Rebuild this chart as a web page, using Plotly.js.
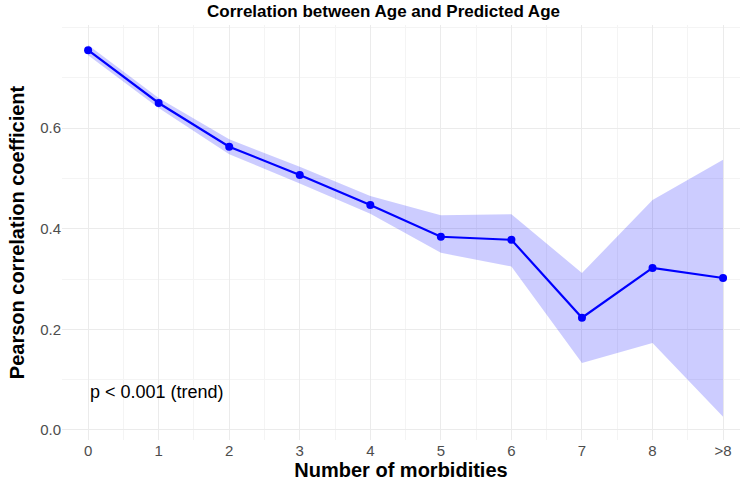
<!DOCTYPE html><html><head><script src="https://cdn.plot.ly/plotly-3.0.1.min.js"></script></head><body style="margin:0"><div id="c" style="width:752px;height:485px"></div><script>
const cats=[0,1,2,3,4,5,6,7,8,9];
const tickLabels=["0","1","2","3","4","5","6","7","8",">8"];
const r=[0.755,0.65,0.563,0.507,0.447,0.384,0.378,0.223,0.322,0.302];
const lower=[0.745,0.64,0.548,0.49,0.43,0.352,0.325,0.133,0.173,0.026];
const upper=[0.765,0.66,0.578,0.523,0.465,0.427,0.429,0.312,0.457,0.537];
const grid='#ebebeb';
Plotly.newPlot('c',[
{x:cats,y:lower,mode:'lines',line:{width:0},showlegend:false,hoverinfo:'skip'},
{x:cats,y:upper,mode:'lines',line:{width:0},fill:'tonexty',fillcolor:'rgba(0,0,255,0.2)',showlegend:false},
{x:cats,y:r,mode:'lines+markers',line:{color:'#0000ff',width:2.2},marker:{color:'#0000ff',size:8},showlegend:false}
],{
width:752,height:485,margin:{l:62,r:12,t:25,b:45},paper_bgcolor:'white',plot_bgcolor:'white',
font:{family:'Liberation Sans, Arial, sans-serif'},
title:{text:'<b>Correlation between Age and Predicted Age</b>',x:0.51,y:0.99,yanchor:'top',font:{size:17,color:'black'}},
xaxis:{range:[-0.37,9.24],tickvals:cats,ticktext:tickLabels,gridcolor:grid,zeroline:false,showline:false,
 minor:{dtick:0.5,tick0:0.5,showgrid:true,gridcolor:'#f4f4f4'},tickfont:{size:15,color:'#4d4d4d'},
 title:{text:'<b>Number of morbidities</b>',font:{size:20,color:'black'},standoff:4}},
yaxis:{range:[-0.02,0.805],tickvals:[0,0.2,0.4,0.6],ticktext:['0.0','0.2','0.4','0.6'],gridcolor:grid,zeroline:false,
 minor:{dtick:0.1,tick0:0.1,showgrid:true,gridcolor:'#f4f4f4'},tickfont:{size:15,color:'#4d4d4d'},
 title:{text:'<b>Pearson correlation coefficient</b>',font:{size:20,color:'black'},standoff:10}},
annotations:[{x:0.0,y:0.075,xref:'x',yref:'y',xanchor:'left',text:'p < 0.001 (trend)',showarrow:false,font:{size:18,color:'black'}}]
},{displayModeBar:false});
</script></body></html>
